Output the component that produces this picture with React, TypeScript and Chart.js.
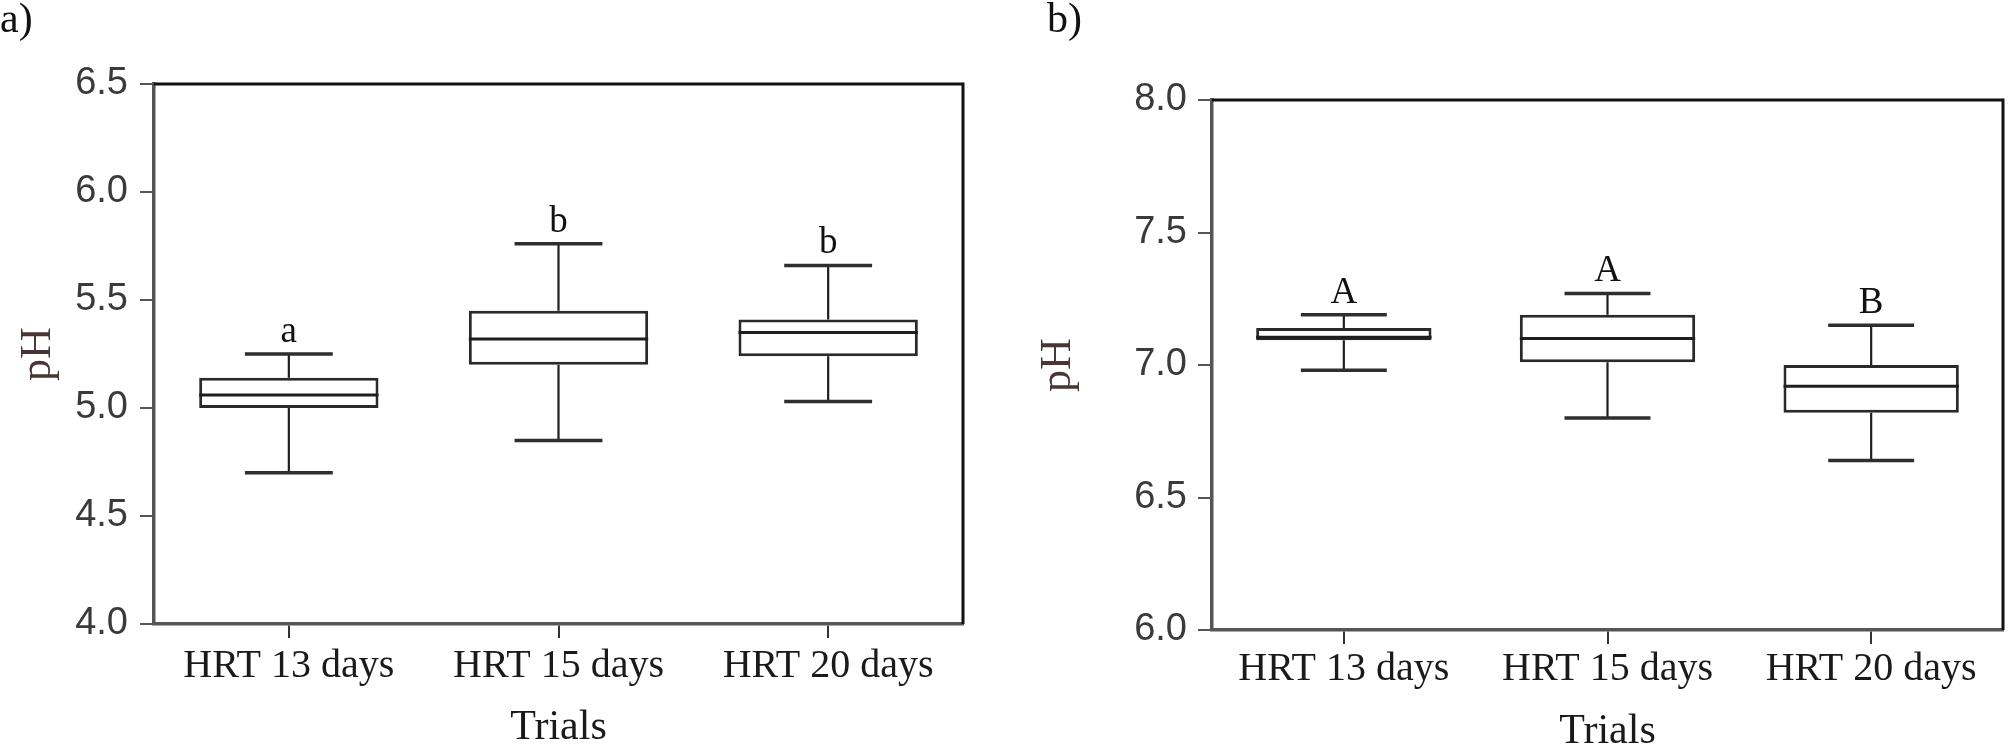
import React, { useEffect, useRef } from "react";
import { Chart, registerables } from "chart.js";

Chart.register(...registerables);

// ---------- data ----------
const categories = ["HRT 13 days", "HRT 15 days", "HRT 20 days"];

// panel a)
const aMin = [4.7, 4.85, 5.03];
const aQ1 = [5.0, 5.2, 5.24];
const aMedian = [5.06, 5.32, 5.35];
const aQ3 = [5.14, 5.45, 5.41];
const aMax = [5.25, 5.76, 5.66];
const aLetters = ["a", "b", "b"];
const aYMin = 4.0;
const aYMax = 6.5;

// panel b)
const bMin = [6.98, 6.8, 6.64];
const bQ1 = [7.093, 7.01, 6.82];
const bMedian = [7.105, 7.1, 6.92];
const bQ3 = [7.14, 7.19, 7.0];
const bMax = [7.19, 7.27, 7.15];
const bLetters = ["A", "A", "B"];
const bYMin = 6.0;
const bYMax = 8.0;

const yStep = 0.5;
const xTitle = "Trials";
const yTitle = "pH";

const SERIF = "'Liberation Serif', 'Times New Roman', serif";
const SANS = "'Liberation Sans', Arial, sans-serif";

type Stats = {
  min: number[];
  q1: number[];
  median: number[];
  q3: number[];
  max: number[];
  letters: string[];
  yMin: number;
  yMax: number;
  panel: string;
};

type Layout = {
  canvasWidth: number;
  padTop: number;
  padRight: number;
  yAxisWidth: number;
  xAxisHeight: number;
  yTickPad: number;
  xTickPad: number;
  yTitlePad: number;
  xTitlePad: number;
  panelLabelX: number;
};

function makePlugin(s: Stats, l: Layout) {
  return {
    id: "boxExtras",
    afterDatasetsDraw(chart: any) {
      const { ctx, chartArea, scales } = chart;
      const y = scales.y;
      const meta = chart.getDatasetMeta(0);
      ctx.save();
      meta.data.forEach((bar: any, i: number) => {
        const x = bar.x;
        const w = bar.width;
        const capW = w * 0.49;
        const pMin = y.getPixelForValue(s.min[i]);
        const pQ1 = y.getPixelForValue(s.q1[i]);
        const pMed = y.getPixelForValue(s.median[i]);
        const pQ3 = y.getPixelForValue(s.q3[i]);
        const pMax = y.getPixelForValue(s.max[i]);
        // whiskers
        ctx.strokeStyle = "#1e1e1e";
        ctx.lineWidth = 2.2;
        ctx.beginPath();
        ctx.moveTo(x, pQ3);
        ctx.lineTo(x, pMax);
        ctx.moveTo(x, pQ1);
        ctx.lineTo(x, pMin);
        ctx.stroke();
        // caps
        ctx.strokeStyle = "#2e2e2e";
        ctx.lineWidth = 3.5;
        ctx.beginPath();
        ctx.moveTo(x - capW / 2, pMax);
        ctx.lineTo(x + capW / 2, pMax);
        ctx.moveTo(x - capW / 2, pMin);
        ctx.lineTo(x + capW / 2, pMin);
        ctx.stroke();
        // median
        ctx.strokeStyle = "#1e1e1e";
        ctx.lineWidth = 3;
        ctx.beginPath();
        ctx.moveTo(x - w / 2, pMed);
        ctx.lineTo(x + w / 2, pMed);
        ctx.stroke();
        // significance letters
        ctx.fillStyle = "#111";
        ctx.font = `37px ${SERIF}`;
        ctx.textAlign = "center";
        ctx.textBaseline = "alphabetic";
        ctx.fillText(s.letters[i], x, pMax - 12);
      });
      // frame top and right
      ctx.strokeStyle = "#111";
      ctx.lineWidth = 3;
      ctx.beginPath();
      ctx.moveTo(chartArea.left, chartArea.top);
      ctx.lineTo(chartArea.right, chartArea.top);
      ctx.lineTo(chartArea.right, chartArea.bottom);
      ctx.stroke();
      // panel label
      ctx.fillStyle = "#111";
      ctx.font = `42px ${SERIF}`;
      ctx.textAlign = "left";
      ctx.textBaseline = "alphabetic";
      ctx.fillText(s.panel, l.panelLabelX, 32);
      ctx.restore();
    },
  };
}

function BoxPanel({ stats, layout, left }: { stats: Stats; layout: Layout; left: number }) {
  const ref = useRef<HTMLCanvasElement | null>(null);
  useEffect(() => {
    if (!ref.current) return;
    const chart = new Chart(ref.current, {
      type: "bar",
      data: {
        labels: categories,
        datasets: [
          {
            data: categories.map((_, i) => [stats.q1[i], stats.q3[i]]) as any,
            backgroundColor: "#ffffff",
            borderColor: "#2a2a2a",
            borderWidth: 3,
            borderSkipped: false,
            barPercentage: 0.665,
            categoryPercentage: 1.0,
          },
        ],
      },
      options: {
        responsive: false,
        animation: false,
        devicePixelRatio: 1,
        layout: {
          padding: { left: 0, top: layout.padTop, right: layout.padRight, bottom: 0 },
        },
        plugins: {
          legend: { display: false },
          tooltip: { enabled: false },
        },
        scales: {
          x: {
            type: "category",
            grid: {
              offset: false,
              drawOnChartArea: false,
              drawTicks: true,
              tickLength: 14,
              color: "#333",
              lineWidth: 2,
            },
            border: { display: true, color: "#555", width: 3.5 },
            ticks: {
              color: "#1a1a1a",
              padding: layout.xTickPad,
              font: { family: SERIF, size: 40, lineHeight: 1 },
              maxRotation: 0,
              autoSkip: false,
            },
            title: {
              display: true,
              text: xTitle,
              color: "#1a1a1a",
              font: { family: SERIF, size: 42, lineHeight: 1 },
              padding: { top: 0, bottom: layout.xTitlePad },
            },
            afterFit: (scale: any) => {
              scale.height = layout.xAxisHeight;
            },
          },
          y: {
            type: "linear",
            min: stats.yMin,
            max: stats.yMax,
            grid: {
              drawOnChartArea: false,
              drawTicks: true,
              tickLength: 14,
              color: "#555",
              lineWidth: 2,
            },
            border: { display: true, color: "#555", width: 3.5 },
            ticks: {
              stepSize: yStep,
              color: "#3a3a3a",
              padding: layout.yTickPad,
              font: { family: SANS, size: 38, lineHeight: 1 },
              callback: (v: any) => Number(v).toFixed(1),
            },
            title: {
              display: true,
              text: yTitle,
              color: "#4a3535",
              font: { family: SERIF, size: 44, lineHeight: 1 },
              padding: { top: layout.yTitlePad, bottom: 0 },
            },
            afterFit: (scale: any) => {
              scale.width = layout.yAxisWidth;
            },
          },
        },
      } as any,
      plugins: [makePlugin(stats, layout)],
    });
    return () => chart.destroy();
  }, []);
  return (
    <canvas
      ref={ref}
      width={layout.canvasWidth}
      height={748}
      style={{ position: "absolute", left, top: 0, width: layout.canvasWidth, height: 748 }}
    />
  );
}

const statsA: Stats = {
  min: aMin,
  q1: aQ1,
  median: aMedian,
  q3: aQ3,
  max: aMax,
  letters: aLetters,
  yMin: aYMin,
  yMax: aYMax,
  panel: "a)",
};

const statsB: Stats = {
  min: bMin,
  q1: bQ1,
  median: bMedian,
  q3: bQ3,
  max: bMax,
  letters: bLetters,
  yMin: bYMin,
  yMax: bYMax,
  panel: "b)",
};

const layoutA: Layout = {
  canvasWidth: 1005,
  padTop: 84,
  padRight: 42,
  yAxisWidth: 154,
  xAxisHeight: 124,
  yTickPad: 12,
  xTickPad: 8,
  yTitlePad: 16,
  xTitlePad: -1,
  panelLabelX: 0,
};

const layoutB: Layout = {
  canvasWidth: 1005,
  padTop: 100,
  padRight: 7,
  yAxisWidth: 207,
  xAxisHeight: 118,
  yTickPad: 11,
  xTickPad: 5,
  yTitlePad: 31,
  xTitlePad: -5,
  panelLabelX: 42,
};

export default function App() {
  return (
    <div style={{ position: "absolute", left: 0, top: 0, width: 2010, height: 748, background: "#fff" }}>
      <BoxPanel stats={statsA} layout={layoutA} left={0} />
      <BoxPanel stats={statsB} layout={layoutB} left={1005} />
    </div>
  );
}
